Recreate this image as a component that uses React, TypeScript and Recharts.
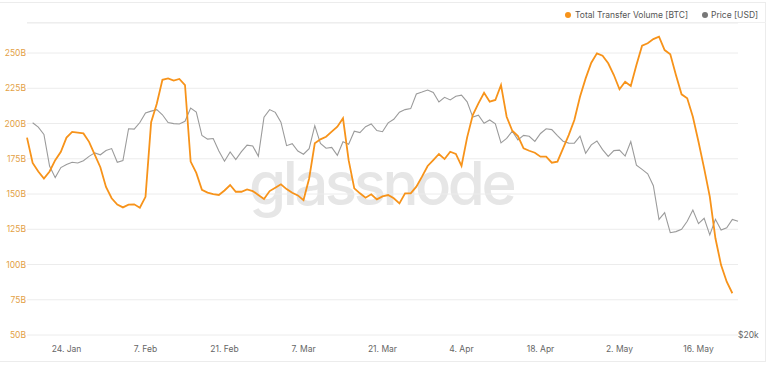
import React from "react";
import { LineChart, Line, XAxis, YAxis, CartesianGrid } from "recharts";

// Daily points, 17 Jan 2022 -> 23 May 2022
const START_UTC = Date.UTC(2022, 0, 17);
const DAY_COUNT = 127;

// Total Transfer Volume (billions), one value per day (last day not yet available)
const transferVolume: (number | null)[] = [
  190, 172, 166, 161, 166, 174, 180, 190, 194, 193.5,
  193, 187, 178, 169, 155, 147, 142.5, 140.5, 142.5, 142.7,
  140.3, 148, 201, 214, 231, 232, 230.4, 231.6, 227.3, 173,
  165, 153, 151, 150, 149.3, 152.5, 156.4, 151.6, 151.6, 153.3,
  152.1, 149.3, 146.5, 152.1, 154.5, 156.9, 153.5, 150.9, 149, 145.7,
  161, 186, 188.8, 190.6, 194.2, 197.7, 203.7, 174, 154, 150.5,
  147.4, 149.8, 146.2, 148.3, 149.3, 147, 143.4, 150.5, 150.5, 155.2,
  162.3, 169.9, 174.1, 178.4, 174.8, 180, 178.4, 169.9, 190.2, 206,
  214.3, 221.8, 215.5, 216.7, 227.3, 204.8, 194.9, 191.1, 182.4, 180.7,
  179.3, 176.5, 176.5, 172.2, 173, 182.4, 191.8, 202.5, 219, 232,
  243.1, 249.8, 248.1, 242.7, 234.4, 224.3, 229.6, 226.6, 241.5, 255.2,
  256.9, 259.9, 261.6, 252.1, 249.1, 234.4, 220.7, 217.9, 204.8, 187.1,
  168.2, 148.1, 118.6, 99.6, 87.8, 79.6, null,
];

// Price (USD), one value per day (first day not shown)
const priceUsd: (number | null)[] = [
  null, 42375, 41744, 40680, 36457, 35030, 36276, 36654, 36954, 36852,
  37138, 37713, 38166, 37918, 38483, 38743, 36952, 37154, 41501, 41441,
  42412, 43841, 44118, 44338, 43565, 42407, 42244, 42197, 42586, 44575,
  43961, 40538, 40030, 40122, 38431, 37075, 38286, 37296, 38332, 39214,
  39105, 37709, 43193, 44354, 43925, 42452, 39137, 39400, 38420, 37988,
  38731, 41942, 39437, 38794, 38904, 37849, 39666, 39338, 41143, 40951,
  41801, 42190, 41247, 41077, 42358, 42892, 43960, 44348, 44500, 46820,
  47128, 47465, 47062, 45538, 46281, 45868, 46453, 46622, 45555, 43206,
  43503, 42287, 42782, 42207, 39521, 40127, 41166, 39936, 40553, 40424,
  39716, 40827, 41503, 41374, 40527, 39741, 39486, 39470, 40458, 38118,
  39241, 39773, 38610, 37714, 38469, 38529, 37750, 39698, 36575, 36040,
  35501, 34059, 30297, 31022, 28936, 29047, 29283, 30102, 31306, 29863,
  30425, 28720, 30314, 29201, 29445, 30293, 30100,
];

const tickDates = [
  "2022-01-24", "2022-02-07", "2022-02-21", "2022-03-07", "2022-03-21",
  "2022-04-04", "2022-04-18", "2022-05-02", "2022-05-16",
];
const tickLabels = [
  "24. Jan", "7. Feb", "21. Feb", "7. Mar", "21. Mar",
  "4. Apr", "18. Apr", "2. May", "16. May",
];

const volumeTicks = [50, 75, 100, 125, 150, 175, 200, 225, 250];
const volumeDomain: [number, number] = [50, 271.3];
const priceDomain: [number, number] = [20294, 59890];
const priceTicks = [20294];

const dates = Array.from({ length: DAY_COUNT }, (_, i) =>
  new Date(START_UTC + i * 86400000).toISOString().slice(0, 10)
);

const data = dates.map((date, i) => ({
  date,
  volume: transferVolume[i],
  price: priceUsd[i],
}));

const FONT = "Inter, 'Noto Sans', sans-serif";
const ORANGE = "#f7931a";
const GREY = "#9b9b9b";

export default function App() {
  return (
    <div style={{ position: "absolute", left: 0, top: 0, width: 771, height: 372, background: "#fff" }}>
      <svg width={771} height={372} style={{ position: "absolute", left: 0, top: 0 }}>
        <line x1={0} y1={2.5} x2={766} y2={2.5} stroke="#ececec" />
        <line x1={765.5} y1={2} x2={765.5} y2={362} stroke="#ececec" />
        <line x1={0} y1={361.5} x2={766} y2={361.5} stroke="#ececec" />
        <line x1={27} y1={22.5} x2={766} y2={22.5} stroke="#f0f0f0" />
        <text
          x={249}
          y={205}
          fontFamily={FONT}
          fontSize={60}
          fontWeight={500}
          letterSpacing={-3.5}
          fill="#e6e6e6"
        >
          glassnode
        </text>
        <circle cx={568} cy={15} r={3} fill={ORANGE} />
        <text x={575} y={18} fontFamily={FONT} fontSize={8.5} fill="#555">
          Total Transfer Volume [BTC]
        </text>
        <circle cx={705} cy={15} r={3} fill="#777" />
        <text x={711} y={18} fontFamily={FONT} fontSize={8.5} fill="#555">
          Price [USD]
        </text>
      </svg>
      <div style={{ position: "absolute", left: 0, top: 0 }}>
        <LineChart
          width={771}
          height={372}
          data={data}
          margin={{ top: 23, right: 0, bottom: 0, left: 0 }}
        >
          <CartesianGrid yAxisId="left" vertical={false} stroke="#ececec" />
          <XAxis
            dataKey="date"
            ticks={tickDates}
            tickFormatter={(v: string) => tickLabels[tickDates.indexOf(v)] ?? ""}
            axisLine={false}
            tickLine={false}
            tickSize={0}
            tickMargin={11}
            height={37}
            interval={0}
            tick={{ fontFamily: FONT, fontSize: 8.5, fill: "#666" }}
          />
          <YAxis
            yAxisId="left"
            type="number"
            domain={volumeDomain}
            ticks={volumeTicks}
            allowDataOverflow
            tickFormatter={(v: number) => `${v}B`}
            axisLine={false}
            tickLine={false}
            tickSize={0}
            tickMargin={1}
            width={27}
            tick={{ fontFamily: FONT, fontSize: 8.5, fill: "#e39f45" }}
          />
          <YAxis
            yAxisId="right"
            orientation="right"
            type="number"
            scale="log"
            domain={priceDomain}
            ticks={priceTicks}
            allowDataOverflow
            tickFormatter={(v: number) => `$${Math.floor(v / 1000)}k`}
            axisLine={false}
            tickLine={false}
            tickSize={0}
            tickMargin={0}
            width={33}
            tick={{ fontFamily: FONT, fontSize: 8.5, fill: "#666" }}
          />
          <Line
            yAxisId="right"
            dataKey="price"
            stroke={GREY}
            strokeWidth={1.1}
            dot={false}
            activeDot={false}
            type="linear"
            isAnimationActive={false}
          />
          <Line
            yAxisId="left"
            dataKey="volume"
            stroke={ORANGE}
            strokeWidth={1.8}
            dot={false}
            activeDot={false}
            type="linear"
            isAnimationActive={false}
          />
        </LineChart>
      </div>
    </div>
  );
}
